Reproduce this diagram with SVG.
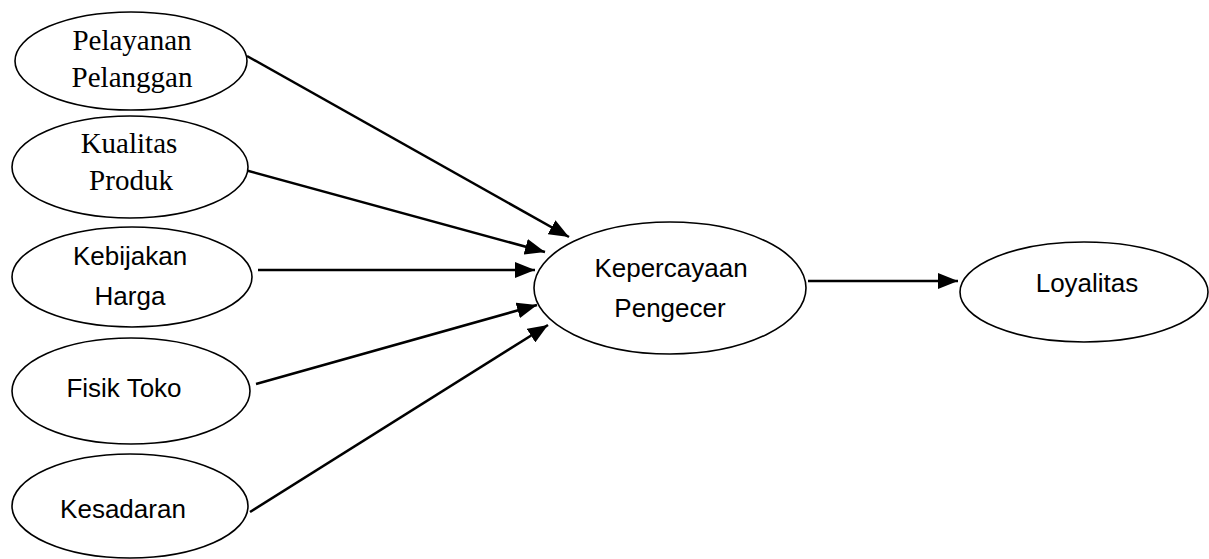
<svg xmlns="http://www.w3.org/2000/svg" width="1209" height="559" viewBox="0 0 1209 559">
<style>
.n ellipse{fill:#fff;stroke:#000;stroke-width:1.6}
.serif{font-family:"Liberation Serif","Times New Roman",serif;font-size:29px;fill:#000;text-anchor:middle}
.sans{font-family:"Liberation Sans",Arial,sans-serif;font-size:26px;fill:#000;text-anchor:middle}
.c line{stroke:#000;stroke-width:2.5;marker-end:url(#ah)}
</style>
<defs>
<marker id="ah" markerUnits="userSpaceOnUse" markerWidth="22" markerHeight="16" refX="20" refY="8" orient="auto">
<path d="M0,0 L20,8 L0,16 Z" fill="#000"/>
</marker>
</defs>
<g class="c" id="connectors">
<line x1="247" y1="56" x2="569" y2="237"/>
<line x1="245" y1="170" x2="545" y2="252"/>
<line x1="258" y1="270" x2="535" y2="270"/>
<line x1="256" y1="384" x2="537" y2="305"/>
<line x1="250" y1="512" x2="548" y2="325"/>
<line x1="808" y1="281" x2="958" y2="281"/>
</g>
<g class="n" id="pelayanan">
<ellipse cx="131" cy="61" rx="116" ry="49"/>
<text class="serif" x="132" y="50">Pelayanan</text>
<text class="serif" x="132" y="87">Pelanggan</text>
</g>
<g class="n" id="kualitas">
<ellipse cx="130" cy="167" rx="118" ry="51"/>
<text class="serif" x="129" y="153">Kualitas</text>
<text class="serif" x="131" y="190">Produk</text>
</g>
<g class="n" id="kebijakan">
<ellipse cx="132" cy="277" rx="120" ry="50"/>
<text class="sans" x="130" y="265">Kebijakan</text>
<text class="sans" x="130" y="305">Harga</text>
</g>
<g class="n" id="fisik">
<ellipse cx="131" cy="391" rx="119" ry="53"/>
<text class="sans" x="124" y="397">Fisik Toko</text>
</g>
<g class="n" id="kesadaran">
<ellipse cx="130" cy="506" rx="118" ry="52"/>
<text class="sans" x="123" y="518">Kesadaran</text>
</g>
<g class="n" id="kepercayaan">
<ellipse cx="670" cy="288" rx="136" ry="66"/>
<text class="sans" x="671" y="277">Kepercayaan</text>
<text class="sans" x="670" y="317">Pengecer</text>
</g>
<g class="n" id="loyalitas">
<ellipse cx="1084" cy="292" rx="124" ry="50"/>
<text class="sans" x="1087" y="292">Loyalitas</text>
</g>
</svg>
